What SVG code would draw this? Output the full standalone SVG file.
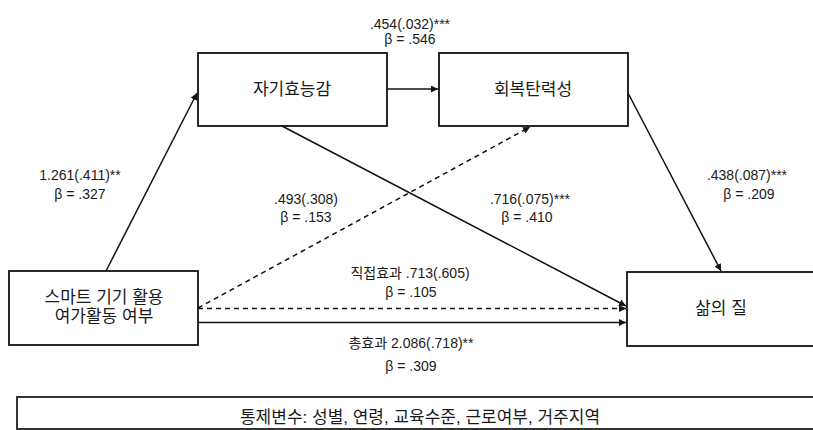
<svg xmlns="http://www.w3.org/2000/svg" width="813" height="430" viewBox="0 0 813 430">
<style>
  .box{fill:#fff;stroke:#111;stroke-width:1.8}
  .ln{fill:none;stroke:#111;stroke-width:1.5}
  .dash{stroke-dasharray:5,4}
  text{font-family:"Liberation Sans","Noto Sans CJK KR",sans-serif;fill:#1a1a1a;text-anchor:middle}
  .node{font-size:17px}
  .lbl{font-size:14px}
</style>
<defs>
  <marker id="ah" viewBox="0 0 10 10" refX="10" refY="5" markerWidth="7" markerHeight="7" markerUnits="userSpaceOnUse" orient="auto">
    <path d="M0,0 L10,5 L0,10 z" fill="#111"/>
  </marker>
</defs>
<rect width="813" height="430" fill="#fff"/>
<g id="connectors">
  <line class="ln" x1="106" y1="271" x2="197" y2="93" marker-end="url(#ah)"/>
  <line class="ln" x1="387" y1="89" x2="438" y2="89" marker-end="url(#ah)"/>
  <line class="ln" x1="282" y1="126" x2="626" y2="306" marker-end="url(#ah)"/>
  <line class="ln dash" x1="198" y1="308" x2="530" y2="127" marker-end="url(#ah)"/>
  <line class="ln" x1="628" y1="93" x2="721" y2="271" marker-end="url(#ah)"/>
  <line class="ln dash" x1="198" y1="308.5" x2="626" y2="308.5" marker-end="url(#ah)"/>
  <line class="ln" x1="198" y1="322.5" x2="626" y2="322.5" marker-end="url(#ah)"/>
</g>
<g id="node-smart">
  <rect class="box" x="9" y="271" width="189" height="74"/>
  <text class="node" x="104" y="303">스마트 기기 활용</text>
  <text class="node" x="104" y="322">여가활동 여부</text>
</g>
<g id="node-selfefficacy">
  <rect class="box" x="198" y="53" width="189" height="73"/>
  <text class="node" x="292" y="95">자기효능감</text>
</g>
<g id="node-resilience">
  <rect class="box" x="439" y="53" width="189" height="73"/>
  <text class="node" x="533" y="95">회복탄력성</text>
</g>
<g id="node-qol">
  <rect class="box" x="627" y="272" width="190" height="74"/>
  <text class="node" x="721" y="314">삶의 질</text>
</g>
<g id="node-controls">
  <rect class="box" x="17" y="397" width="800" height="32" style="stroke:#333;stroke-width:2"/>
  <text class="node" x="420" y="423">통제변수: 성별, 연령, 교육수준, 근로여부, 거주지역</text>
</g>
<g id="labels" class="lbl">
  <text class="lbl" x="410" y="29">.454(.032)***</text>
  <text class="lbl" x="410" y="44">β = .546</text>
  <text class="lbl" x="80" y="180">1.261(.411)**</text>
  <text class="lbl" x="80" y="199">β = .327</text>
  <text class="lbl" x="306" y="204">.493(.308)</text>
  <text class="lbl" x="306" y="222">β = .153</text>
  <text class="lbl" x="530" y="204">.716(.075)***</text>
  <text class="lbl" x="527" y="222">β = .410</text>
  <text class="lbl" x="747" y="180">.438(.087)***</text>
  <text class="lbl" x="749" y="199">β = .209</text>
  <text class="lbl" x="410" y="278">직접효과 .713(.605)</text>
  <text class="lbl" x="411" y="297">β = .105</text>
  <text class="lbl" x="411" y="348">총효과 2.086(.718)**</text>
  <text class="lbl" x="411" y="371">β = .309</text>
</g>
</svg>
